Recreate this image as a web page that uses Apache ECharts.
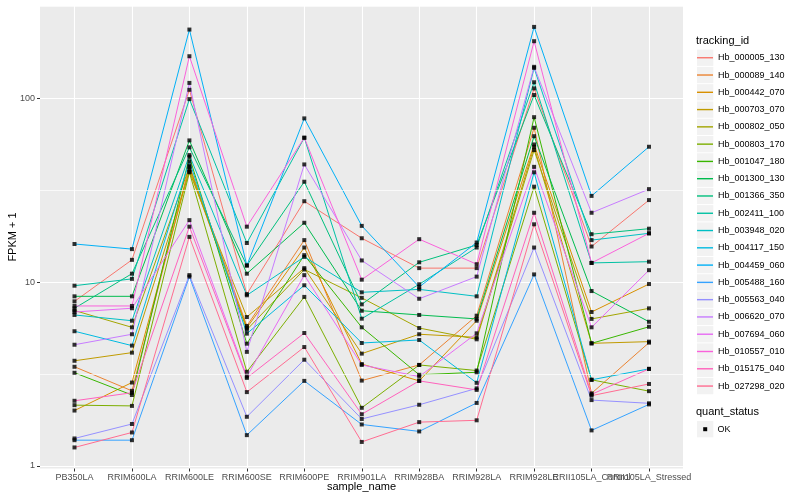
<!DOCTYPE html>
<html><head><meta charset="utf-8">
<script src="https://cdn.jsdelivr.net/npm/echarts@6/dist/echarts.min.js"></script>
<style>html,body{margin:0;padding:0;background:#fff}#c{width:800px;height:500px}</style>
</head><body><div id="c"></div>
<script>
// ---- DATA ----
const categories = ['PB350LA','RRIM600LA','RRIM600LE','RRIM600SE','RRIM600PE','RRIM901LA','RRIM928BA','RRIM928LA','RRIM928LE','RRII105LA_Control','RRII105LA_Stressed'];
const trackingIds = ['Hb_000005_130','Hb_000089_140','Hb_000442_070','Hb_000703_070','Hb_000802_050','Hb_000803_170','Hb_001047_180','Hb_001300_130','Hb_001366_350','Hb_002411_100','Hb_003948_020','Hb_004117_150','Hb_004459_060','Hb_005488_160','Hb_005563_040','Hb_006620_070','Hb_007694_060','Hb_010557_010','Hb_015175_040','Hb_027298_020'];
const Hb_000005_130 = [7.85, 13.2, 111, 8.6, 27.5, 17.3, 11.9, 11.9, 113, 15.6, 27.9];
const Hb_000089_140 = [3.46, 2.56, 43, 5.77, 16.9, 2.91, 3.54, 6.56, 69.0, 2.48, 4.68];
const Hb_000442_070 = [2.00, 2.84, 41, 5.64, 15.4, 3.58, 2.90, 6.16, 56.0, 6.87, 9.75];
const Hb_000703_070 = [3.73, 4.13, 39.8, 6.45, 11.9, 4.08, 5.20, 5.0, 54.4, 4.64, 4.74];
const Hb_000802_050 = [7.0, 5.67, 42.3, 5.5, 11.7, 8.2, 5.62, 4.88, 52.2, 6.30, 7.19];
const Hb_000803_170 = [2.14, 2.12, 39.5, 3.25, 8.3, 2.07, 3.54, 3.30, 33.0, 2.94, 2.55];
const Hb_001047_180 = [3.21, 2.43, 48.0, 4.62, 14.0, 5.67, 3.13, 3.23, 78.8, 4.64, 5.71];
const Hb_001300_130 = [8.36, 8.36, 58.9, 11.1, 21.0, 6.98, 6.62, 6.30, 62.1, 8.93, 6.08];
const Hb_001366_350 = [7.2, 11.1, 54.0, 12.3, 35.1, 7.56, 12.8, 15.9, 104, 18.2, 19.5];
const Hb_002411_100 = [9.55, 10.4, 98.8, 16.3, 60.9, 6.32, 9.72, 15.4, 122, 12.7, 12.9];
const Hb_003948_020 = [6.62, 6.16, 49.0, 8.47, 13.7, 8.79, 9.12, 8.36, 146, 16.9, 18.4];
const Hb_004117_150 = [5.40, 4.51, 45.3, 5.24, 9.6, 4.66, 4.84, 2.83, 39.5, 2.94, 3.37];
const Hb_004459_060 = [16.1, 15.1, 236, 12.3, 77.6, 20.2, 9.4, 16.4, 244, 29.4, 54.4];
const Hb_005488_160 = [1.38, 1.38, 10.7, 1.47, 2.90, 1.68, 1.54, 2.20, 11.0, 1.56, 2.16];
const Hb_005563_040 = [1.41, 1.69, 10.9, 1.85, 3.78, 1.80, 2.15, 2.64, 15.4, 2.28, 2.19];
const Hb_006620_070 = [4.56, 5.20, 121, 4.17, 43.6, 13.1, 8.11, 10.7, 148, 23.8, 32.0];
const Hb_007694_060 = [6.87, 7.2, 21.7, 3.06, 10.9, 3.54, 3.06, 5.26, 42.3, 5.67, 11.6];
const Hb_010557_010 = [7.41, 7.41, 169, 20.0, 60.9, 10.3, 17.1, 12.5, 204, 12.7, 18.4];
const Hb_015175_040 = [2.26, 2.50, 20.0, 3.01, 5.28, 1.91, 2.90, 2.59, 23.8, 2.45, 3.37];
const Hb_027298_020 = [1.26, 1.52, 17.6, 2.52, 4.43, 1.35, 1.73, 1.77, 20.6, 2.41, 2.79];
const seriesValues = [Hb_000005_130,Hb_000089_140,Hb_000442_070,Hb_000703_070,Hb_000802_050,Hb_000803_170,Hb_001047_180,Hb_001300_130,Hb_001366_350,Hb_002411_100,Hb_003948_020,Hb_004117_150,Hb_004459_060,Hb_005488_160,Hb_005563_040,Hb_006620_070,Hb_007694_060,Hb_010557_010,Hb_015175_040,Hb_027298_020];
const yTicks = [1, 10, 100];
const yMinorTicks = [3.1623, 31.623, 316.23];
const yMin = 0.968, yMax = 317;
const colors = ['#F8766D','#EA8331','#D89000','#C09B00','#A3A500','#7CAE00','#39B600','#00BB4E','#00BF7D','#00C1A3','#00BFC4','#00BAE0','#00B0F6','#35A2FF','#9590FF','#C77CFF','#E76BF3','#FA62DB','#FF62BC','#FF6C91'];

// ---- CHART ----
const FONT = '"Liberation Sans", Arial, sans-serif';
const chart = echarts.init(document.getElementById('c'), null, {renderer: 'canvas'});
const TOP = 6, BOTTOM = 31.5;
const series = [];
// helper series carrying the half-decade (minor) grid lines across the whole panel
series.push({type: 'line', xAxisIndex: 0, yAxisIndex: 0, data: [[0, 1], [1, 1]], silent: true, z: 2,
  symbol: 'none', lineStyle: {opacity: 0, width: 0},
  markLine: {silent: true, symbol: ['none', 'none'], label: {show: false}, animation: false,
    lineStyle: {color: '#ffffff', width: 1, type: 'solid', opacity: 0.7},
    emphasis: {disabled: true},
    data: yMinorTicks.map(v => ({yAxis: v}))}});
trackingIds.forEach((n, i) => {
  series.push({name: n, type: 'line', xAxisIndex: 1, yAxisIndex: 1, data: seriesValues[i],
    symbol: 'none', lineStyle: {color: colors[i], width: 1}, itemStyle: {color: colors[i]},
    emphasis: {disabled: true}, z: 3});
});
const pts = [];
seriesValues.forEach(arr => arr.forEach((v, j) => pts.push([j, v])));
series.push({name: 'OK', type: 'scatter', xAxisIndex: 1, yAxisIndex: 1, data: pts, symbol: 'rect',
  symbolSize: 4, itemStyle: {color: '#000'}, z: 5, silent: true});

const KEY = 17.28, LEG_TOP = 49.1;
const graphic = [];
trackingIds.forEach((n, i) => graphic.push({type: 'rect', z: 0,
  shape: {x: 697, y: LEG_TOP + i * KEY + 0.5, width: 16.3, height: 16.3}, style: {fill: '#F2F2F2'}}));
graphic.push({type: 'text', x: 696, y: 40.5, style: {text: 'tracking_id', fontSize: 11, fontFamily: FONT, fill: '#000', align: 'left', verticalAlign: 'middle'}});
graphic.push({type: 'text', x: 696, y: 412, style: {text: 'quant_status', fontSize: 11, fontFamily: FONT, fill: '#000', align: 'left', verticalAlign: 'middle'}});
graphic.push({type: 'rect', shape: {x: 697, y: 421, width: 16.3, height: 16.3}, style: {fill: '#F2F2F2'}});
graphic.push({type: 'rect', shape: {x: 703.2, y: 427.2, width: 4, height: 4}, style: {fill: '#000'}});
graphic.push({type: 'text', x: 717.5, y: 429.3, style: {text: 'OK', fontSize: 9, fontFamily: FONT, fill: '#000', align: 'left', verticalAlign: 'middle'}});
graphic.push({type: 'text', x: 361.5, y: 487, style: {text: 'sample_name', fontSize: 11, fontFamily: FONT, fill: '#000', align: 'center', verticalAlign: 'middle'}});
graphic.push({type: 'text', x: 13, y: 237, rotation: Math.PI / 2, style: {text: 'FPKM + 1', fontSize: 11, fontFamily: FONT, fill: '#000', align: 'center', verticalAlign: 'middle'}});

const option = {
  animation: false,
  backgroundColor: '#ffffff',
  textStyle: {fontFamily: FONT},
  grid: [
    {left: 40, right: 117, top: TOP, bottom: BOTTOM, show: true, backgroundColor: '#EBEBEB', borderWidth: 0},
    {left: 74.5, right: 151, top: TOP, bottom: BOTTOM, show: false}
  ],
  xAxis: [
    {gridIndex: 0, type: 'value', min: 0, max: 1, show: false},
    {gridIndex: 1, type: 'category', data: categories, boundaryGap: false,
      axisLine: {show: false},
      axisTick: {show: true, length: 3, interval: 0, lineStyle: {color: '#333333', width: 1}},
      axisLabel: {interval: 0, fontSize: 9, color: '#4D4D4D', margin: 5, fontFamily: FONT},
      splitLine: {show: true, interval: 0, lineStyle: {color: '#ffffff', width: 1.1}}}
  ],
  yAxis: [
    {gridIndex: 0, type: 'log', logBase: 10, min: yMin, max: yMax,
      axisLine: {show: false},
      axisTick: {show: true, length: 3, customValues: yTicks, lineStyle: {color: '#333333', width: 1}},
      axisLabel: {customValues: yTicks, fontSize: 9, color: '#4D4D4D', margin: 5, fontFamily: FONT, formatter: v => String(v)},
      splitLine: {show: true, lineStyle: {color: '#ffffff', width: 1.1}}, z: 1},
    {gridIndex: 1, type: 'log', logBase: 10, min: yMin, max: yMax, show: false, splitLine: {show: false}}
  ],
  legend: {orient: 'vertical', left: 697, top: LEG_TOP, itemWidth: 16, itemHeight: 1.4, itemGap: 0,
    icon: 'rect', padding: 0, selectedMode: false, z: 4,
    textStyle: {fontSize: 9, color: '#000', lineHeight: KEY, fontFamily: FONT},
    data: trackingIds.map((n, i) => ({name: n, itemStyle: {color: colors[i]}}))},
  graphic: graphic,
  series: series
};
chart.setOption(option);
</script></body></html>
